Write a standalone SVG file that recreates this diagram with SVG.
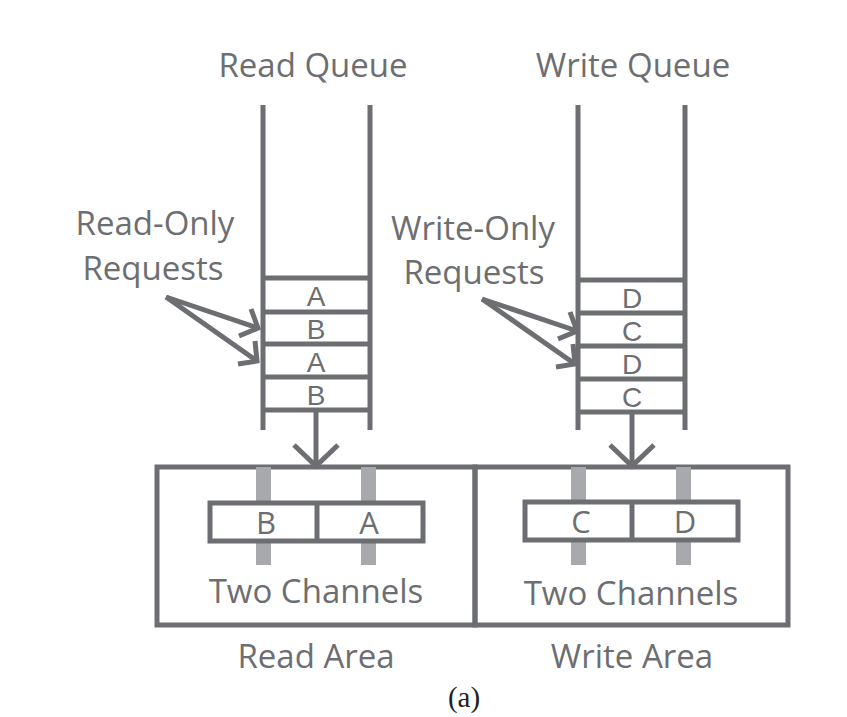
<svg xmlns="http://www.w3.org/2000/svg" width="847" height="717" viewBox="0 0 847 717">
<style>
.ln{stroke:#6d6e71;stroke-width:5;fill:none}
.bar{fill:#a7a9ac}
.box{stroke:#6d6e71;stroke-width:5;fill:#fff}
.t{font-family:"Open Sans","Liberation Sans",sans-serif;fill:#6d6e71;text-anchor:middle}
.lbl{font-size:33px}
.cell{font-family:"Liberation Sans",Arial,sans-serif;font-size:28px}
.cell2{font-size:31px}
</style>
<rect width="847" height="717" fill="#fff"/>
<g id="read-queue">
<text class="t lbl" x="313" y="77">Read Queue</text>
<line class="ln" x1="263" y1="105" x2="263" y2="430"/>
<line class="ln" x1="370" y1="105" x2="370" y2="430"/>
<line class="ln" x1="263" y1="278" x2="370" y2="278"/>
<line class="ln" x1="263" y1="312" x2="370" y2="312"/>
<line class="ln" x1="263" y1="344" x2="370" y2="344"/>
<line class="ln" x1="263" y1="377" x2="370" y2="377"/>
<line class="ln" x1="263" y1="410" x2="370" y2="410"/>
<text class="t cell" x="316" y="306">A</text>
<text class="t cell" x="316" y="339">B</text>
<text class="t cell" x="316" y="372">A</text>
<text class="t cell" x="316" y="405">B</text>
</g>
<g id="write-queue">
<text class="t lbl" x="633" y="77">Write Queue</text>
<line class="ln" x1="578" y1="105" x2="578" y2="430"/>
<line class="ln" x1="685" y1="105" x2="685" y2="430"/>
<line class="ln" x1="578" y1="280" x2="685" y2="280"/>
<line class="ln" x1="578" y1="313" x2="685" y2="313"/>
<line class="ln" x1="578" y1="346" x2="685" y2="346"/>
<line class="ln" x1="578" y1="379" x2="685" y2="379"/>
<line class="ln" x1="578" y1="412" x2="685" y2="412"/>
<text class="t cell" x="632" y="308">D</text>
<text class="t cell" x="632" y="341">C</text>
<text class="t cell" x="632" y="374">D</text>
<text class="t cell" x="632" y="407">C</text>
</g>
<g id="read-only-label">
<text class="t lbl" x="155" y="235">Read-Only</text>
<text class="t lbl" x="153" y="280">Requests</text>
</g>
<g id="write-only-label">
<text class="t lbl" x="473" y="240">Write-Only</text>
<text class="t lbl" x="474" y="284">Requests</text>
</g>
<g id="read-area">
<rect class="ln" x="157" y="467" width="318" height="158"/>
<rect class="bar" x="256" y="467" width="15" height="98"/>
<rect class="bar" x="361" y="467" width="15" height="98"/>
<rect class="box" x="210" y="503" width="213" height="38"/>
<line class="ln" x1="317" y1="503" x2="317" y2="541"/>
<text class="t cell2" x="266" y="534">B</text>
<text class="t cell2" x="369" y="534">A</text>
<text class="t lbl" x="316" y="603">Two Channels</text>
<text class="t lbl" x="316" y="668">Read Area</text>
</g>
<g id="write-area">
<rect class="ln" x="475" y="467" width="313" height="158"/>
<rect class="bar" x="571" y="467" width="15" height="98"/>
<rect class="bar" x="676" y="467" width="15" height="98"/>
<rect class="box" x="525" y="502" width="213" height="38"/>
<line class="ln" x1="632" y1="502" x2="632" y2="540"/>
<text class="t cell2" x="581" y="533">C</text>
<text class="t cell2" x="685" y="533">D</text>
<text class="t lbl" x="631" y="605">Two Channels</text>
<text class="t lbl" x="632" y="668">Write Area</text>
</g>
<g id="connectors">
<line class="ln" x1="316" y1="410" x2="316" y2="466"/>
<polyline class="ln" points="294,445 316,466 338,445"/>
<line class="ln" x1="632" y1="412" x2="632" y2="466"/>
<polyline class="ln" points="610,445 632,466 654,445"/>
<line class="ln" x1="166" y1="297" x2="258" y2="328"/>
<polyline class="ln" points="251,309 258,328 239,336"/>
<line class="ln" x1="166" y1="297" x2="257" y2="361"/>
<polyline class="ln" points="255,341 257,361 238,364"/>
<line class="ln" x1="482" y1="299" x2="577" y2="331"/>
<polyline class="ln" points="570,312 577,331 558,339"/>
<line class="ln" x1="482" y1="299" x2="575" y2="364"/>
<polyline class="ln" points="573,344 575,364 556,367"/>
</g>
<text x="464" y="707" font-family="'Liberation Serif',serif" font-size="29" fill="#231f20" text-anchor="middle">(a)</text>
</svg>
